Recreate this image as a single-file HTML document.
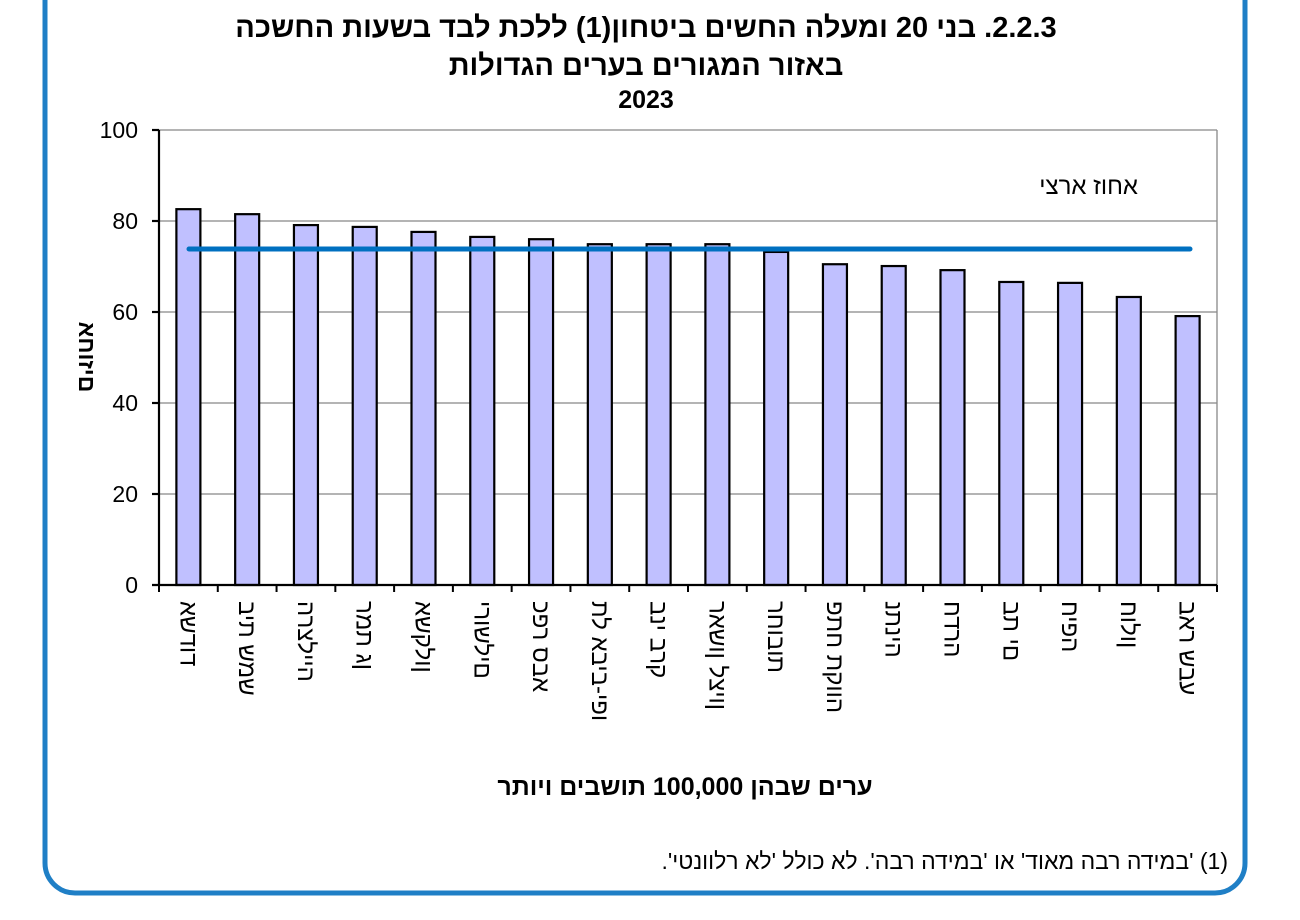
<!DOCTYPE html>
<html><head><meta charset="utf-8"><style>
html,body{margin:0;padding:0;background:#fff;}
svg{display:block;}
text{font-family:"Liberation Sans","Noto Sans CJK SC",sans-serif;fill:#000;}
.b{font-weight:bold;}
</style></head><body>
<svg width="1300" height="920" viewBox="0 0 1300 920" xmlns="http://www.w3.org/2000/svg">
<rect x="45" y="-40" width="1200" height="933" rx="30" ry="30" fill="none" stroke="#1f7fc6" stroke-width="5"/>
<text class="b" x="646" y="37" font-size="29" text-anchor="middle" direction="rtl">2.2.3. בני 20 ומעלה החשים ביטחון(1) ללכת לבד בשעות החשכה</text>
<text class="b" x="646" y="75" font-size="29" text-anchor="middle" direction="rtl">באזור המגורים בערים הגדולות</text>
<text class="b" x="646" y="108" font-size="25" text-anchor="middle">2023</text>
<g stroke="#888" stroke-width="1.3">
<line x1="159" y1="130" x2="1217" y2="130"/>
<line x1="159" y1="221" x2="1217" y2="221"/>
<line x1="159" y1="312" x2="1217" y2="312"/>
<line x1="159" y1="403" x2="1217" y2="403"/>
<line x1="159" y1="494" x2="1217" y2="494"/>
<line x1="1217" y1="130" x2="1217" y2="585"/>
</g>
<g font-size="23" text-anchor="end">
<text x="138" y="138">100</text><text x="138" y="229">80</text><text x="138" y="320">60</text>
<text x="138" y="411">40</text><text x="138" y="502">20</text><text x="138" y="593">0</text>
</g>
<g id="bars" fill="#c0c0ff" stroke="#000" stroke-width="2.2"></g>
<g stroke="#000" stroke-width="2.2">
<line x1="159" y1="130" x2="159" y2="585"/>
<line x1="152" y1="585" x2="1217" y2="585"/>
<line x1="152" y1="130" x2="159" y2="130"/><line x1="152" y1="221" x2="159" y2="221"/>
<line x1="152" y1="312" x2="159" y2="312"/><line x1="152" y1="403" x2="159" y2="403"/>
<line x1="152" y1="494" x2="159" y2="494"/>
</g>
<g id="ticks" stroke="#000" stroke-width="2"></g>
<line x1="189" y1="249" x2="1190" y2="249" stroke="#0070c0" stroke-width="5" stroke-linecap="round"/>
<text x="1138" y="194" font-size="24" text-anchor="start" direction="rtl">אחוז ארצי</text>
<g id="labels" font-size="24"></g>
<text class="b" x="79" y="357" font-size="23" text-anchor="middle" transform="rotate(90 79 357)" direction="ltr" unicode-bidi="bidi-override">אחוזים</text>
<text class="b" x="685" y="795" font-size="25" text-anchor="middle" direction="rtl">ערים שבהן 100,000 תושבים ויותר</text>
<text x="1228" y="869" font-size="23" text-anchor="start" direction="rtl">(1) 'במידה רבה מאוד' או 'במידה רבה'. לא כולל 'לא רלוונטי'.</text>
</svg>
<script>
(function(){
var vals=[82.6,81.5,79.1,78.7,77.6,76.5,76.0,74.9,74.9,74.9,73.2,70.5,70.1,69.2,66.6,66.4,63.3,59.1];
var names=["אשדוד","בית שמש","הרצלייה","רמת גן","אשקלון","ירושלים","כפר סבא","תל אביב-יפו","בני ברק","ראשון לציון","רחובות","פתח תקווה","נתניה","חדרה","בת ים","חיפה","חולון","באר שבע"];
var ns="http://www.w3.org/2000/svg",x0=159,w=1058/18;
var bars=document.getElementById('bars'),ticks=document.getElementById('ticks'),labels=document.getElementById('labels');
for(var i=0;i<18;i++){
 var c=x0+w*(i+0.5),ty=585-vals[i]*4.55;
 var r=document.createElementNS(ns,'rect');
 r.setAttribute('x',c-12);r.setAttribute('y',ty);r.setAttribute('width',24);r.setAttribute('height',585-ty);
 bars.appendChild(r);
 var t=document.createElementNS(ns,'line');var tx=x0+w*(i+1);
 t.setAttribute('x1',tx);t.setAttribute('x2',tx);t.setAttribute('y1',585);t.setAttribute('y2',592);ticks.appendChild(t);
 if(i==0){var t0=t.cloneNode();t0.setAttribute('x1',x0);t0.setAttribute('x2',x0);ticks.appendChild(t0);}
 var l=document.createElementNS(ns,'text');
 l.setAttribute('x',c);l.setAttribute('y',601);
 l.setAttribute('transform','rotate(90 '+c+' 601) translate(0 8)');
 l.setAttribute('direction','ltr');l.setAttribute('unicode-bidi','bidi-override');
 l.textContent=names[i];labels.appendChild(l);
}
})();
</script>
</body></html>
